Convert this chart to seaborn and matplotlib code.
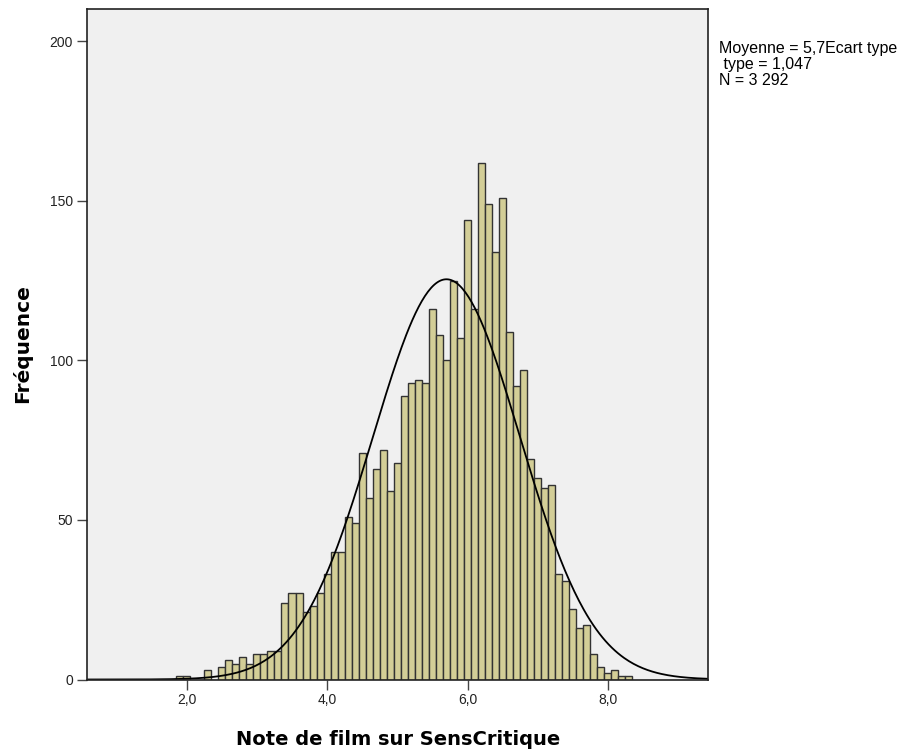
import numpy as np
import pandas as pd
import matplotlib
matplotlib.use("Agg")
import matplotlib.pyplot as plt
import seaborn as sns

# ---- data (bin centres, width 0.1) ----
notes = [1.9, 2.0, 2.1, 2.2, 2.3, 2.4, 2.5, 2.6, 2.7, 2.8, 2.9,
         3.0, 3.1, 3.2, 3.3, 3.4, 3.5, 3.6, 3.7, 3.8, 3.9,
         4.0, 4.1, 4.2, 4.3, 4.4, 4.5, 4.6, 4.7, 4.8, 4.9,
         5.0, 5.1, 5.2, 5.3, 5.4, 5.5, 5.6, 5.7, 5.8, 5.9,
         6.0, 6.1, 6.2, 6.3, 6.4, 6.5, 6.6, 6.7, 6.8, 6.9,
         7.0, 7.1, 7.2, 7.3, 7.4, 7.5, 7.6, 7.7, 7.8, 7.9,
         8.0, 8.1, 8.2, 8.3]
frequences = [1, 1, 0, 0, 3, 0, 4, 6, 5, 7, 5,
              8, 8, 9, 9, 24, 27, 27, 21, 23, 27,
              33, 40, 40, 51, 49, 71, 57, 66, 72, 59,
              68, 89, 93, 94, 93, 116, 108, 100, 125, 107,
              144, 116, 162, 149, 134, 151, 109, 92, 97, 69,
              63, 60, 61, 33, 31, 22, 16, 17, 8, 4,
              2, 3, 1, 1]
moyenne = 5.7
ecart_type = 1.047
n_total = 3292
largeur_classe = 0.1
xticks = [2.0, 4.0, 6.0, 8.0]
xtick_labels = ["2,0", "4,0", "6,0", "8,0"]
yticks = [0, 50, 100, 150, 200]

df = pd.DataFrame({"note": notes, "freq": frequences})

sns.set_theme(style="white")
plt.rcParams["font.family"] = ["Liberation Sans", "DejaVu Sans"]

fig = plt.figure(figsize=(9.10, 7.55), dpi=100)
ax = fig.add_axes([87 / 910, 1 - 679.5 / 755, (708.3 - 87) / 910, (679.5 - 8.5) / 755])
ax.set_facecolor("#F0F0F0")

edges = [round(notes[0] - largeur_classe / 2 + i * largeur_classe, 2)
         for i in range(len(notes) + 1)]
sns.histplot(data=df, x="note", weights="freq", bins=edges, ax=ax,
             color="#D3CE97", edgecolor="#333333", linewidth=1.0, alpha=1.0)

# normal curve from the reported statistics
xlim = (0.58, 9.43)
xs = np.linspace(xlim[0], xlim[1], 400)
ys = n_total * largeur_classe / (ecart_type * np.sqrt(2 * np.pi)) * \
    np.exp(-0.5 * ((xs - moyenne) / ecart_type) ** 2)
sns.lineplot(x=xs, y=ys, ax=ax, color="black", linewidth=1.3)

ax.set_xlim(*xlim)
ax.set_ylim(0, 210.3)
ax.set_xticks(xticks)
ax.set_xticklabels(xtick_labels)
ax.set_yticks(yticks)
ax.tick_params(axis="both", which="major", direction="out", length=7,
               width=1.0, color="#444444", labelsize=10, labelcolor="#222222",
               pad=3, bottom=True, left=True)
for s in ax.spines.values():
    s.set_color("#222222")
    s.set_linewidth(1.2)

ax.set_xlabel("Note de film sur SensCritique", fontsize=14, fontweight="bold",
              family=["DejaVu Sans"], labelpad=16, color="black")
ax.set_ylabel("Fréquence", fontsize=14.5, fontweight="bold",
              family=["DejaVu Sans"], labelpad=13, color="black")

fig.text(719 / 910, 1 - 41 / 755,
         "Moyenne = 5,7Ecart type\n type = 1,047\nN = 3 292",
         ha="left", va="top", fontsize=11.5, linespacing=1.1, color="black")

fig.savefig("out.png", dpi=100)
